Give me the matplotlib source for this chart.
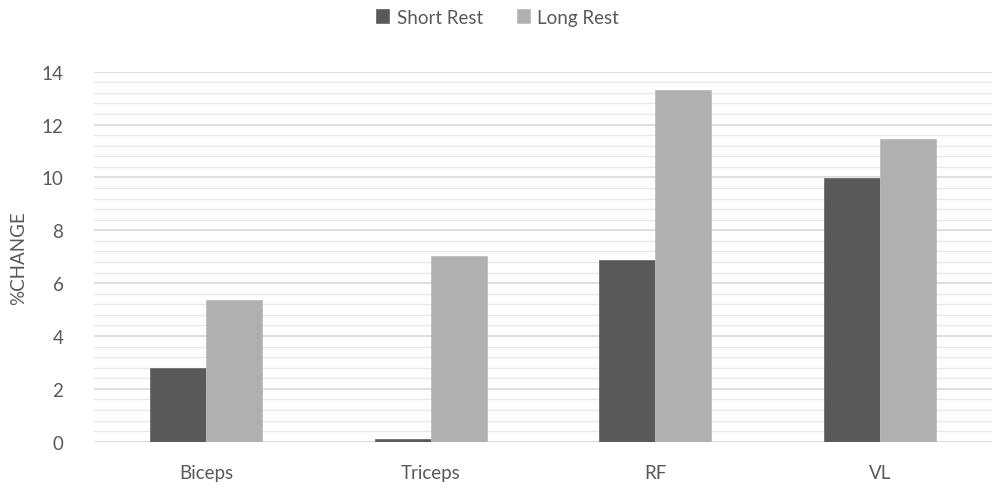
import numpy as np
import matplotlib
matplotlib.use("Agg")
import matplotlib.pyplot as plt
from matplotlib.ticker import MultipleLocator

categories = ["Biceps", "Triceps", "RF", "VL"]
short_rest = [2.78, 0.1, 6.86, 9.97]
long_rest = [5.35, 7.02, 13.3, 11.45]
series_names = ["Short Rest", "Long Rest"]

plt.rcParams['font.family'] = ['Lato', 'DejaVu Sans']
txt = '#595959'

fig = plt.figure(figsize=(9.95, 4.89), dpi=100)
ax = fig.add_axes([0.0945, 0.0947, 0.9025, 0.7566])

x = np.arange(len(categories))
w = 0.25
ax.bar(x - w / 2, short_rest, w, color='#595959', edgecolor='#6e6e6e', linewidth=0.6,
       label=series_names[0], zorder=3)
ax.bar(x + w / 2, long_rest, w, color='#b0b0b0', edgecolor='#bdbdbd', linewidth=0.6,
       label=series_names[1], zorder=3)

ax.set_xlim(-0.5, len(categories) - 0.5)
ax.set_ylim(0, 14)
ax.yaxis.set_major_locator(MultipleLocator(2))
ax.yaxis.set_minor_locator(MultipleLocator(0.4))
ax.grid(axis='y', which='major', color='#d9d9d9', linewidth=1.2, zorder=0)
ax.grid(axis='y', which='minor', color='#e8e8e8', linewidth=1.0, zorder=0)
ax.set_xticks(x)
ax.set_xticklabels(categories)
ax.tick_params(axis='both', which='both', length=0, labelsize=13.5, colors=txt)
ax.tick_params(axis='x', pad=16)
ax.tick_params(axis='y', pad=22)
for s in ax.spines.values():
    s.set_visible(False)
ax.axhline(0, color='#d9d9d9', linewidth=1.2, zorder=2)

ax.set_ylabel("%CHANGE", fontsize=13.5, color=txt)
ax.yaxis.set_label_coords(-0.074, 0.5)

fig.legend(loc='upper center', bbox_to_anchor=(0.5, 1.015), ncol=2, frameon=False,
           fontsize=13.5, labelcolor=txt, handlelength=0.7, handleheight=0.7,
           handletextpad=0.4, columnspacing=1.8)

fig.savefig("out.png", dpi=100)
